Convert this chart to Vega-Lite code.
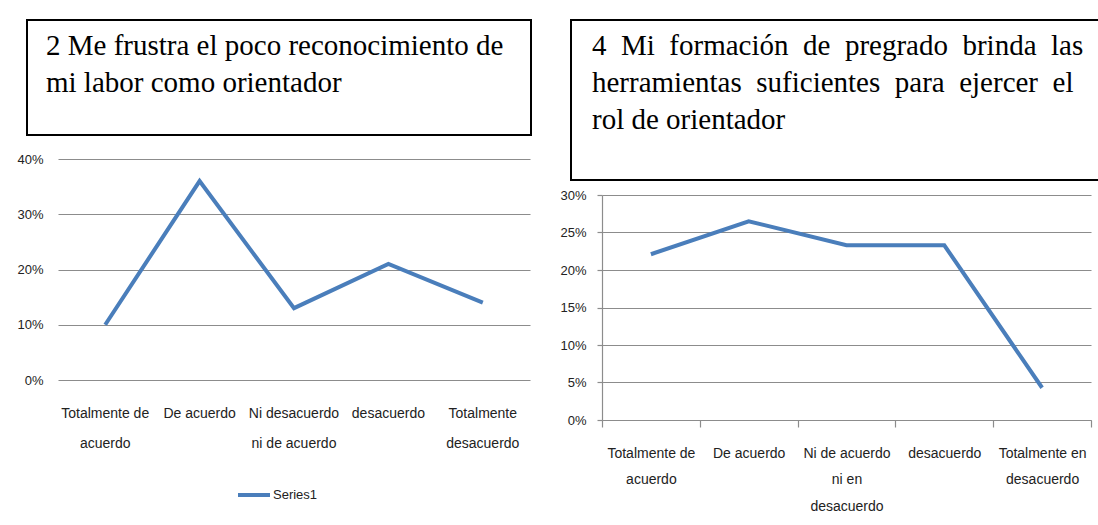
{
  "$schema": "https://vega.github.io/schema/vega-lite/v6.json",
  "padding": {"left": 16, "top": 19, "right": 0, "bottom": 0},
  "background": "white",
  "config": {
    "axis": {
      "labelFont": "Liberation Sans",
      "labelColor": "#222222",
      "labelFontSize": 13,
      "gridColor": "#8c8c8c",
      "gridWidth": 1.2,
      "domainColor": "#8c8c8c",
      "domainWidth": 1.2,
      "tickColor": "#8c8c8c",
      "tickWidth": 1.2
    },
    "axisX": {"labelFontSize": 14}
  },
  "datasets": {
    "p2": [
      {"categoria": "Totalmente de|acuerdo", "porcentaje": 0.10, "serie": "Series1"},
      {"categoria": "De acuerdo", "porcentaje": 0.36, "serie": "Series1"},
      {"categoria": "Ni desacuerdo|ni de acuerdo", "porcentaje": 0.13, "serie": "Series1"},
      {"categoria": "desacuerdo", "porcentaje": 0.21, "serie": "Series1"},
      {"categoria": "Totalmente|desacuerdo", "porcentaje": 0.14, "serie": "Series1"}
    ],
    "p4": [
      {"categoria": "Totalmente de|acuerdo", "porcentaje": 0.221},
      {"categoria": "De acuerdo", "porcentaje": 0.265},
      {"categoria": "Ni de acuerdo|ni en|desacuerdo", "porcentaje": 0.233},
      {"categoria": "desacuerdo", "porcentaje": 0.233},
      {"categoria": "Totalmente en|desacuerdo", "porcentaje": 0.043}
    ]
  },
  "spacing": 27,
  "hconcat": [
    {
      "spacing": 17,
      "vconcat": [
        {
          "width": 504,
          "height": 115,
          "view": {"stroke": "black", "strokeWidth": 2, "fill": "white"},
          "data": {"values": [{"titulo": "2 Me frustra el poco reconocimiento de|mi labor como orientador"}]},
          "mark": {"type": "text", "lineBreak": "|", "font": "Liberation Serif", "fontSize": 29, "align": "left", "baseline": "alphabetic", "lineHeight": 37, "dx": -233, "dy": -22.5, "color": "black"},
          "encoding": {"text": {"field": "titulo", "type": "nominal"}}
        },
        {
          "width": 504,
          "height": 221,
          "view": {"stroke": null},
          "data": {"name": "p2"},
          "mark": {"type": "line", "strokeWidth": 4},
          "encoding": {
            "x": {
              "field": "categoria", "type": "nominal", "sort": null,
              "scale": {"type": "band", "paddingInner": 0, "paddingOuter": 0, "range": [31, 503]},
              "axis": {"title": null, "labelAngle": 0, "domain": false, "ticks": false, "labelExpr": "split(datum.label, '|')", "labelLineHeight": 30, "labelPadding": 26}
            },
            "y": {
              "field": "porcentaje", "type": "quantitative",
              "scale": {"domain": [0, 0.4]},
              "axis": {"title": null, "values": [0, 0.1, 0.2, 0.3, 0.4], "format": ".0%", "domain": false, "ticks": false, "grid": true, "offset": -31, "labelPadding": 15}
            },
            "color": {
              "field": "serie", "type": "nominal",
              "scale": {"range": ["#4a7ebb"]},
              "legend": {"title": null, "orient": "none", "legendX": 209, "legendY": 457, "symbolType": "stroke", "symbolStrokeWidth": 4, "symbolSize": 1024, "labelFont": "Liberation Sans", "labelFontSize": 13, "labelColor": "#222222", "labelOffset": 1, "padding": 0}
            }
          }
        }
      ]
    },
    {
      "spacing": 8,
      "vconcat": [
        {
          "width": 528,
          "height": 160,
          "view": {"stroke": "black", "strokeWidth": 2, "fill": "white"},
          "data": {"values": [{"titulo": "4 \u00a0Mi \u00a0formación \u00a0de \u00a0pregrado \u00a0brinda \u00a0las|herramientas \u00a0suficientes \u00a0para \u00a0ejercer \u00a0el|rol de orientador"}]},
          "mark": {"type": "text", "lineBreak": "|", "font": "Liberation Serif", "fontSize": 29, "align": "left", "baseline": "alphabetic", "lineHeight": 37, "dx": -243, "dy": -45, "color": "black"},
          "encoding": {"text": {"field": "titulo", "type": "nominal"}}
        },
        {
          "width": 528,
          "height": 225,
          "view": {"stroke": null},
          "data": {"name": "p4"},
          "mark": {"type": "line", "strokeWidth": 4, "color": "#4a7ebb"},
          "encoding": {
            "x": {
              "field": "categoria", "type": "nominal", "sort": null,
              "scale": {"type": "band", "paddingInner": 0, "paddingOuter": 0, "range": [31, 520]},
              "axis": {"title": null, "labelAngle": 0, "domain": true, "ticks": true, "tickSize": 7, "tickBand": "extent", "labelExpr": "split(datum.label, '|')", "labelLineHeight": 26.5, "labelPadding": 19}
            },
            "y": {
              "field": "porcentaje", "type": "quantitative",
              "scale": {"domain": [0, 0.3]},
              "axis": {"title": null, "values": [0, 0.05, 0.1, 0.15, 0.2, 0.25, 0.3], "format": ".0%", "domain": true, "ticks": true, "tickSize": 5, "grid": true, "offset": -31, "labelPadding": 11}
            }
          }
        }
      ]
    }
  ]
}
